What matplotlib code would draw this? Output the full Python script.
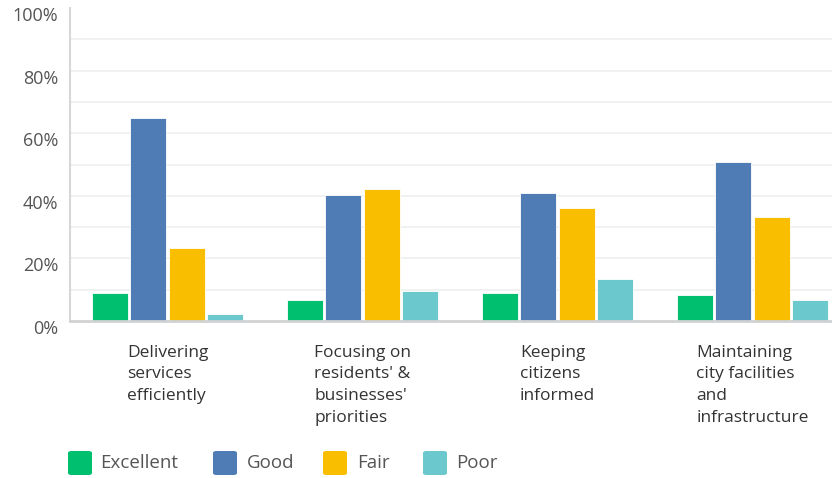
import matplotlib
matplotlib.use("Agg")
import matplotlib.pyplot as plt
import matplotlib.transforms as mtransforms
from matplotlib.patches import FancyBboxPatch
import numpy as np

plt.rcParams['font.family'] = ['Open Sans', 'DejaVu Sans']

categories = ["Delivering\nservices\nefficiently",
              "Focusing on\nresidents' &\nbusinesses'\npriorities",
              "Keeping\ncitizens\ninformed",
              "Maintaining\ncity facilities\nand\ninfrastructure"]
series_names = ["Excellent", "Good", "Fair", "Poor"]
excellent = [8.8, 6.7, 8.8, 8.2]
good = [64.8, 40.3, 40.8, 50.7]
fair = [23.2, 42.2, 36.2, 33.2]
poor = [2.2, 9.7, 13.3, 6.7]
values = [excellent, good, fair, poor]
colors = ["#00BF6F", "#507CB6", "#F9BE00", "#6BC8CD"]
yticks = [0, 20, 40, 60, 80, 100]
ytick_labels = ["0%", "20%", "40%", "60%", "80%", "100%"]

W, H = 832, 478
fig = plt.figure(figsize=(W / 100, H / 100), dpi=100)
ax_left, ax_right, ax_top, ax_bot = 70, 850, 8, 321
ax = fig.add_axes([ax_left / W, 1 - ax_bot / H, (ax_right - ax_left) / W, (ax_bot - ax_top) / H])

x = np.arange(len(categories))
bw = 0.184
step = 0.198
for i, (name, vals, c) in enumerate(zip(series_names, values, colors)):
    ax.bar(x + (i - 1.5) * step, vals, width=bw, color=c, edgecolor='white',
           linewidth=0.6, zorder=3, label=name)

ax.set_xlim(-0.5, len(categories) - 0.5)
ax.set_ylim(0, 100)
for g in range(10, 100, 10):
    ax.axhline(g, color='#EEEFEF', linewidth=1.2, zorder=1)

# y tick labels, shifted below their gridlines like the reference
ax.set_yticks(yticks)
ax.set_yticklabels([])
ax.tick_params(axis='y', length=0)
ytrans = mtransforms.blended_transform_factory(ax.transAxes, ax.transData) + \
    mtransforms.ScaledTranslation(-12 / 100, -8 / 100, fig.dpi_scale_trans)
for v, lab in zip(yticks, ytick_labels):
    ax.text(0, v, lab, transform=ytrans, ha='right', va='center',
            fontsize=13, color='#555555', clip_on=False)

ax.set_xticks(x)
ax.set_xticklabels(categories, fontsize=12.5, color='#333333', ha='center',
                   multialignment='left', linespacing=1.47)
ax.tick_params(axis='x', length=0, pad=17)

for s in ['top', 'right']:
    ax.spines[s].set_visible(False)
ax.spines['left'].set_color('#D5D7D8')
ax.spines['left'].set_linewidth(1.5)
ax.spines['bottom'].set_color('#D0D2D3')
ax.spines['bottom'].set_linewidth(2)
ax.spines['left'].set_zorder(4)
ax.spines['bottom'].set_zorder(4)

# Legend
leg_sq_x = [68, 213, 323, 423]
leg_txt_x = [100, 247, 357, 456]
leg_y = 463
sq = 24
for name, c, sx, tx in zip(series_names, colors, leg_sq_x, leg_txt_x):
    p = FancyBboxPatch((sx / W, 1 - (leg_y + sq / 2) / H), sq / W, sq / H,
                       boxstyle="round,pad=0,rounding_size=0.004",
                       transform=fig.transFigure, facecolor=c, edgecolor='none')
    fig.patches.append(p)
    fig.text(tx / W, 1 - leg_y / H, name, fontsize=13.5, color='#555555',
             va='center', ha='left')

fig.savefig("out.png", dpi=100, facecolor='white')
